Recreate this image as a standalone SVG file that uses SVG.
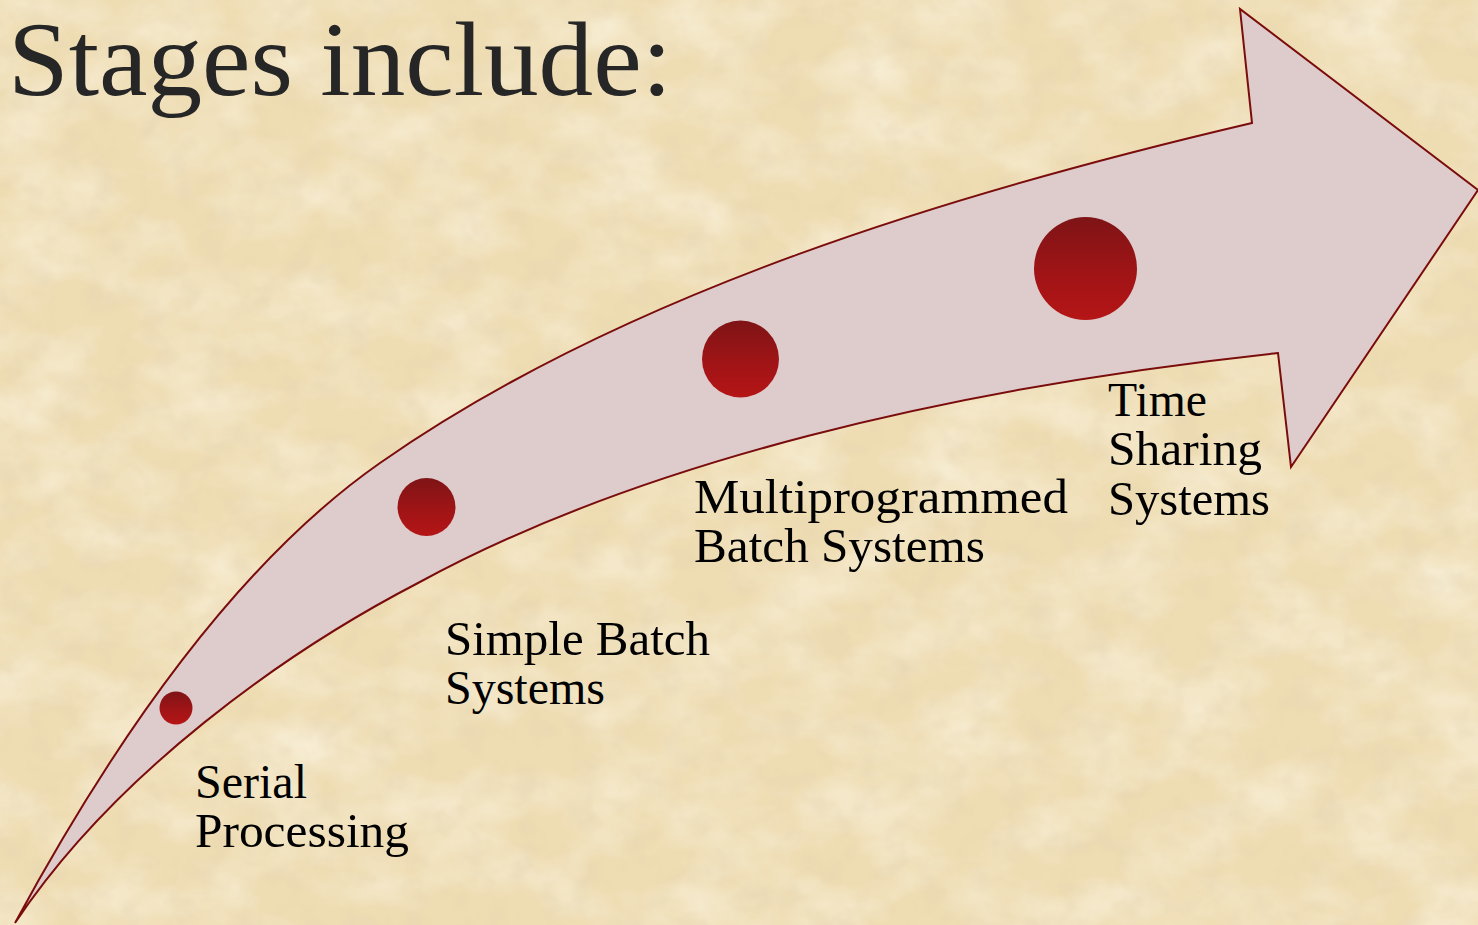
<svg xmlns="http://www.w3.org/2000/svg" width="1478" height="925" viewBox="0 0 1478 925">
<style>
.lbl{font-family:"Liberation Serif","DejaVu Serif",serif;font-size:48px;fill:#000}
.title{font-family:"Liberation Serif","DejaVu Serif",serif;font-size:106px;fill:#262626}
.dot{fill:url(#dotGrad)}
</style>
<defs>
<linearGradient id="dotGrad" x1="0" y1="0" x2="0" y2="1">
<stop offset="0" stop-color="#7e1416"/>
<stop offset="0.55" stop-color="#a01416"/>
<stop offset="1" stop-color="#b51516"/>
</linearGradient>
<filter id="parch" x="0" y="0" width="1478" height="925" filterUnits="userSpaceOnUse">
<feTurbulence type="fractalNoise" baseFrequency="0.012 0.018" numOctaves="4" seed="7" result="n"/>
<feColorMatrix in="n" type="matrix" values="0 0 0 0 0.98  0 0 0 0 0.93  0 0 0 0 0.80  1.2 0 0 0 -0.45"/>
</filter>
<filter id="parch2" x="0" y="0" width="1478" height="925" filterUnits="userSpaceOnUse">
<feTurbulence type="fractalNoise" baseFrequency="0.035" numOctaves="3" seed="2" result="n"/>
<feColorMatrix in="n" type="matrix" values="0 0 0 0 0.78  0 0 0 0 0.66  0 0 0 0 0.45  0 1.1 0 0 -0.52"/>
</filter>
</defs>
<g id="background">
<rect x="0" y="0" width="1478" height="925" fill="#eedcb2"/>
<rect x="0" y="0" width="1478" height="925" filter="url(#parch)"/>
<rect x="0" y="0" width="1478" height="925" filter="url(#parch2)"/>
</g>
<g id="title">
<text class="title" x="8" y="95" textLength="664" lengthAdjust="spacingAndGlyphs">Stages include:</text>
</g>
<g id="connectors">
<path id="arrow" d="M15,923 C108,751 232.6,566 380,463 C625.7,291 959.8,191.4 1252,123 L1240,9 L1478,190 L1291,467 L1278,353 C951,388 640,462 418,583 C285,652 115,773 15,923 Z" fill="#decccd" stroke="#7b0c0c" stroke-width="2" stroke-linejoin="miter"/>
</g>
<g id="stage1">
<circle class="dot" cx="176" cy="708" r="16.5"/>
<text class="lbl" x="195" y="798" textLength="112" lengthAdjust="spacingAndGlyphs">Serial</text>
<text class="lbl" x="195" y="847" textLength="214" lengthAdjust="spacingAndGlyphs">Processing</text>
</g>
<g id="stage2">
<circle class="dot" cx="426.5" cy="507" r="29"/>
<text class="lbl" x="445" y="655" textLength="265" lengthAdjust="spacingAndGlyphs">Simple Batch</text>
<text class="lbl" x="445" y="704" textLength="160" lengthAdjust="spacingAndGlyphs">Systems</text>
</g>
<g id="stage3">
<circle class="dot" cx="740.5" cy="359" r="38.5"/>
<text class="lbl" x="694" y="513" textLength="374" lengthAdjust="spacingAndGlyphs">Multiprogrammed</text>
<text class="lbl" x="694" y="562" textLength="291" lengthAdjust="spacingAndGlyphs">Batch Systems</text>
</g>
<g id="stage4">
<circle class="dot" cx="1085.5" cy="268.5" r="51.5"/>
<text class="lbl" x="1108" y="416" textLength="99" lengthAdjust="spacingAndGlyphs">Time</text>
<text class="lbl" x="1108" y="465" textLength="154" lengthAdjust="spacingAndGlyphs">Sharing</text>
<text class="lbl" x="1108" y="515" textLength="162" lengthAdjust="spacingAndGlyphs">Systems</text>
</g>
</svg>
